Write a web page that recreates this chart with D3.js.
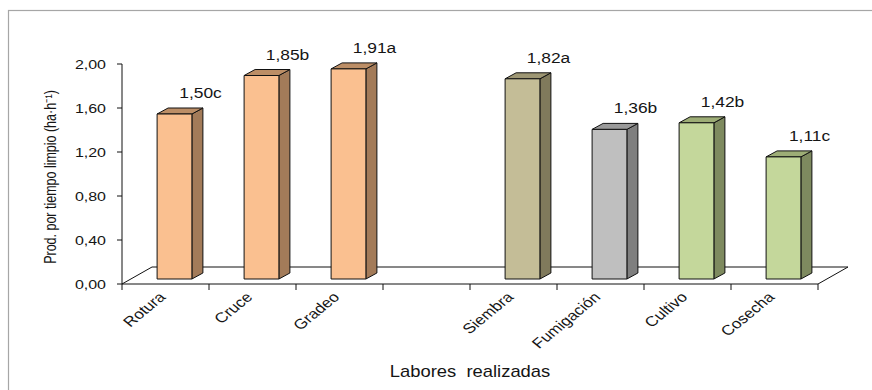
<!DOCTYPE html>
<html>
<head>
<meta charset="utf-8">
<script src="https://cdn.jsdelivr.net/npm/d3@7"></script>
<style>
  html, body { margin: 0; padding: 0; background: #fff; }
  svg { display: block; }
  text { font-family: "Liberation Sans", Arial, sans-serif; fill: #151515; }
</style>
</head>
<body>
<svg id="chart" width="872" height="390"></svg>
<script>
// Labores (the blank slot separates soil preparation from crop tasks)
const categories = ["Rotura", "Cruce", "Gradeo", "", "Siembra", "Fumigación", "Cultivo", "Cosecha"];
const values     = [1.50, 1.85, 1.91, null, 1.82, 1.36, 1.42, 1.11];
const letters    = ["c", "b", "a", "", "a", "b", "b", "c"];
const groups     = ["prep", "prep", "prep", "", "siembra", "fumig", "cult", "cult"];
const yTicks     = [0, 0.4, 0.8, 1.2, 1.6, 2.0];
const yTitle     = "Prod. por tiempo limpio (ha·h⁻¹)";
const xTitle     = "Labores  realizadas";

// colours per task group: front / side / top face
const palette = {
  prep:    { front: "#FAC090", side: "#A37B59", top: "#BC8E66" },
  siembra: { front: "#C4BD97", side: "#807A5C", top: "#9E9774" },
  fumig:   { front: "#BFBFBF", side: "#7F7F7F", top: "#9A9A9A" },
  cult:    { front: "#C4D79B", side: "#7E8A5F", top: "#9DAD76" }
};

const es = d3.formatLocale({ decimal: ",", thousands: ".", grouping: [3], currency: ["", " €"] });
const fmt = es.format(".2f");

const svg = d3.select("#chart");
const SX = 1.28; // horizontal widening of the lettering

// outer frame
svg.append("rect")
  .attr("x", 8.5).attr("y", 10.5).attr("width", 900).attr("height", 420)
  .attr("fill", "none").attr("stroke", "#A6A6A6").attr("stroke-width", 1.2);

const x = d3.scaleBand().domain(categories.map((c, i) => i)).range([122, 818]).paddingInner(0).paddingOuter(0);
const y = d3.scaleLinear().domain([0, 2]).range([284, 64]);

// 3-D depth of the floor and of the bars
const floorD = { dx: 30, dy: -17 };
const barFront = { dx: 9, dy: -5 };
const barDepth = { dx: 11, dy: -6 };
const barW = x.bandwidth() * 0.4;

const x0 = x.range()[0], x1 = x.range()[1], yb = y(0);

// floor
svg.append("path")
  .attr("d", `M${x0},${yb} L${x1},${yb} L${x1 + floorD.dx},${yb + floorD.dy} L${x0 + floorD.dx},${yb + floorD.dy} Z`)
  .attr("fill", "#fff").attr("stroke", "#111").attr("stroke-width", 1);

// value axis
svg.append("line")
  .attr("x1", x0).attr("x2", x0).attr("y1", y(2)).attr("y2", yb)
  .attr("stroke", "#111").attr("stroke-width", 1);
yTicks.forEach(t => {
  svg.append("line")
    .attr("x1", x0 - 5).attr("x2", x0).attr("y1", y(t)).attr("y2", y(t))
    .attr("stroke", "#111");
  svg.append("text")
    .attr("transform", `translate(106,${y(t) + 5}) scale(${SX},1)`)
    .attr("text-anchor", "end")
    .attr("font-size", 12.5)
    .text(fmt(t));
});

// category axis ticks at band boundaries
d3.range(categories.length + 1).forEach(i => {
  const tx = x0 + i * x.step();
  svg.append("line")
    .attr("x1", tx).attr("x2", tx).attr("y1", yb).attr("y2", yb + 6)
    .attr("stroke", "#111");
});

// category labels
categories.forEach((c, i) => {
  if (!c) return;
  const cx = x(i) + x.bandwidth() / 2;
  svg.append("text")
    .attr("transform", `translate(${cx + 1},${yb + 14}) scale(1.22,1) rotate(-45)`)
    .attr("text-anchor", "end")
    .attr("font-size", 14)
    .text(c);
});

// bars
categories.forEach((c, i) => {
  const v = values[i];
  if (v == null) return;
  const col = palette[groups[i]];
  const left = x(i) + x.bandwidth() / 2 - barW / 2 + barFront.dx;
  const right = left + barW;
  const bot = yb + barFront.dy;
  const top = y(v) + barFront.dy;
  const g = svg.append("g").attr("stroke", "#111").attr("stroke-width", 1).attr("stroke-linejoin", "round");
  // side
  g.append("path")
    .attr("d", `M${right},${bot} L${right + barDepth.dx},${bot + barDepth.dy} L${right + barDepth.dx},${top + barDepth.dy} L${right},${top} Z`)
    .attr("fill", col.side);
  // top
  g.append("path")
    .attr("d", `M${left},${top} L${right},${top} L${right + barDepth.dx},${top + barDepth.dy} L${left + barDepth.dx},${top + barDepth.dy} Z`)
    .attr("fill", col.top);
  // front
  g.append("rect")
    .attr("x", left).attr("y", top).attr("width", barW).attr("height", bot - top)
    .attr("fill", col.front);

  // value label
  svg.append("text")
    .attr("transform", `translate(${(left + right) / 2 + 26},${top - 16}) scale(1.2,1)`)
    .attr("text-anchor", "middle")
    .attr("font-size", 14.5)
    .text(fmt(v) + letters[i]);
});

// axis titles
svg.append("text")
  .attr("transform", `translate(470,377) scale(1.15,1)`)
  .attr("text-anchor", "middle")
  .attr("font-size", 16)
  .attr("xml:space", "preserve")
  .style("white-space", "pre")
  .text(xTitle);

svg.append("text")
  .attr("transform", `translate(56,177) rotate(-90) scale(1,1.25)`)
  .attr("text-anchor", "middle")
  .attr("font-size", 12.5)
  .text(yTitle);
</script>
</body>
</html>
